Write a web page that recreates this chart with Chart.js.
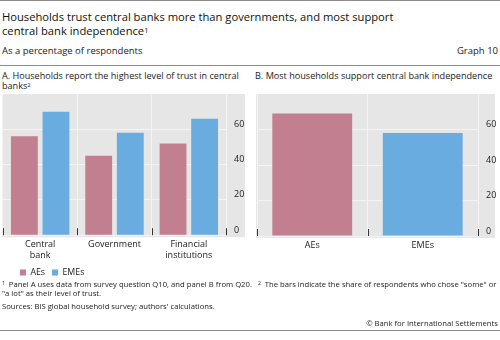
<!DOCTYPE html>
<html>
<head>
<meta charset="utf-8">
<script src="https://cdn.jsdelivr.net/npm/chart.js@4.4.0/dist/chart.umd.min.js"></script>
<style>
  body { margin: 0; background: #fff; font-family: "Open Sans", "Noto Sans", sans-serif; color: #222; }
  #page { position: relative; width: 500px; height: 340px; overflow: hidden; }
  .t { position: absolute; white-space: nowrap; }
  .rule { position: absolute; left: 0; width: 500px; height: 1px; background: #8c8c8c; }
  sup { font-size: 65%; vertical-align: top; position: relative; top: -1px; }
  #wrapA { position: absolute; left: 0; top: 90px; width: 250px; height: 197px; }
  #wrapB { position: absolute; left: 250px; top: 90px; width: 250px; height: 197px; }
</style>
</head>
<body>
<div id="page">
  <div class="rule" style="top:0"></div>
  <div class="t" style="left:2px;top:10px;font-size:11.2px;line-height:14px;color:#111">Households trust central banks more than governments, and most support<br>central bank independence<sup>1</sup></div>
  <div class="t" style="left:2px;top:44px;font-size:9.5px">As a percentage of respondents</div>
  <div class="t" style="right:2px;top:44px;font-size:9.5px">Graph 10</div>
  <div class="rule" style="top:65px"></div>
  <div class="t" style="left:2px;top:70.5px;font-size:9.1px;line-height:10.5px">A. Households report the highest level of trust in central<br>banks<sup>2</sup></div>
  <div class="t" style="left:255px;top:70.5px;font-size:9.1px;line-height:10.5px">B. Most households support central bank independence</div>

  <div id="wrapA"><canvas id="chartA"></canvas></div>
  <div id="wrapB"><canvas id="chartB"></canvas></div>

  <div class="t" style="left:2px;top:279.6px;font-size:7.7px;line-height:9.5px"><sup>1</sup>&nbsp; Panel A uses data from survey question Q10, and panel B from Q20. &nbsp;&nbsp;<sup>2</sup>&nbsp; The bars indicate the share of respondents who chose "some" or<br>"a lot" as their level of trust.</div>
  <div class="t" style="left:2px;top:301px;font-size:7.7px">Sources: BIS global household survey; authors' calculations.</div>
  <div class="t" style="right:2px;top:317.5px;font-size:7.7px">© Bank for International Settlements</div>
  <div class="rule" style="top:330px"></div>
</div>

<script>
// panel A
var trustCategories = [['Central', 'bank'], 'Government', ['Financial', 'institutions']];
var trustAEs = [56, 45, 52];
var trustEMEs = [70, 58, 66];

// panel B
var supportCategories = ['AEs', 'EMEs'];
var supportValues = [69, 58];

var yTicks = [0, 20, 40, 60, 80];

var colAE = '#c17f8f';
var colEME = '#69ace0';

// grey panel behind the plot, including the tick label column
var panelBg = {
	id: 'panelBg',
	beforeDraw: function(chart) {
		var a = chart.chartArea, c = chart.ctx;
		c.save();
		c.fillStyle = '#e6e6e6';
		c.fillRect(a.left - 1, a.top, chart.width - a.left - 4, a.bottom - a.top + 2);
		c.restore();
	}
};

// short dark marks standing up from the baseline at category edges
var innerTicks = {
	id: 'innerTicks',
	afterDatasetsDraw: function(chart) {
		var x = chart.scales.x, a = chart.chartArea, c = chart.ctx;
		var n = x.ticks.length;
		c.save();
		c.strokeStyle = '#333';
		c.lineWidth = 1;
		for (var i = 0; i <= n; i++) {
			var px = x.getPixelForValue(i - 0.5);
			if (i == 0) px = a.left;
			if (i == n) px = a.right;
			px = Math.round(px) + 0.5;
			c.beginPath();
			c.moveTo(px, a.bottom - 7);
			c.lineTo(px, a.bottom);
			c.stroke();
		}
		c.restore();
	}
};

// nudge the legend right, it sits a bit in from the panel edge
var legendShift = {
	id: 'legendShift',
	afterLayout: function(chart) {
		if (chart.legend && chart.legend.options.display) {
			chart.legend.left += 10;
			chart.legend.right += 10;
		}
	}
};

function scalesFor() {
	return {
		x: {
			grid: { offset: true, color: '#f4f4f4', drawTicks: false },
			border: { display: false },
			ticks: { color: '#222', font: { family: 'Open Sans', size: 9 }, padding: 4, maxRotation: 0, autoSkip: false },
			afterFit: function(s) { s.height = 26; s.paddingLeft = 0; s.paddingRight = 0; }
		},
		y: {
			position: 'right',
			min: 0,
			max: 80,
			afterBuildTicks: function(s) { s.ticks = yTicks.map(function(v) { return { value: v }; }); },
			grid: { color: function(ctx) { return ctx.tick && ctx.tick.value == 80 ? 'rgba(0,0,0,0)' : '#f4f4f4'; }, drawTicks: false },
			border: { display: false },
			ticks: {
				color: '#222',
				font: { family: 'Open Sans', size: 9 },
				padding: 8,
				labelOffset: -5,
				callback: function(v) { return v == 80 ? '' : v; }
			},
			afterFit: function(s) { s.width = 22; s.paddingTop = 0; s.paddingBottom = 0; }
		}
	};
}

Chart.defaults.font.family = 'Open Sans';

new Chart(document.getElementById('chartA'), {
	type: 'bar',
	data: {
		labels: trustCategories,
		datasets: [{
			label: 'AEs',
			data: trustAEs,
			backgroundColor: colAE
		},
		{
			label: 'EMEs',
			data: trustEMEs,
			backgroundColor: colEME
		}]
	},
	options: {
		responsive: true,
		maintainAspectRatio: false,
		animation: false,
		categoryPercentage: 0.85,
		barPercentage: 0.85,
		layout: { padding: { left: 3, right: 2, top: 4, bottom: 0 } },
		plugins: {
			legend: {
				position: 'bottom',
				align: 'start',
				labels: { boxWidth: 6, boxHeight: 6, color: '#222', font: { size: 8.8 }, padding: 7 }
			},
			tooltip: { enabled: false }
		},
		scales: scalesFor()
	},
	plugins: [panelBg, innerTicks, legendShift]
});

new Chart(document.getElementById('chartB'), {
	type: 'bar',
	data: {
		labels: supportCategories,
		datasets: [{
			label: 'Support',
			data: supportValues,
			backgroundColor: [colAE, colEME]
		}]
	},
	options: {
		responsive: true,
		maintainAspectRatio: false,
		animation: false,
		categoryPercentage: 0.85,
		barPercentage: 0.85,
		layout: { padding: { left: 7, right: 0, top: 4, bottom: 25 } },
		plugins: {
			legend: { display: false },
			tooltip: { enabled: false }
		},
		scales: scalesFor()
	},
	plugins: [panelBg, innerTicks]
});
</script>
</body>
</html>
